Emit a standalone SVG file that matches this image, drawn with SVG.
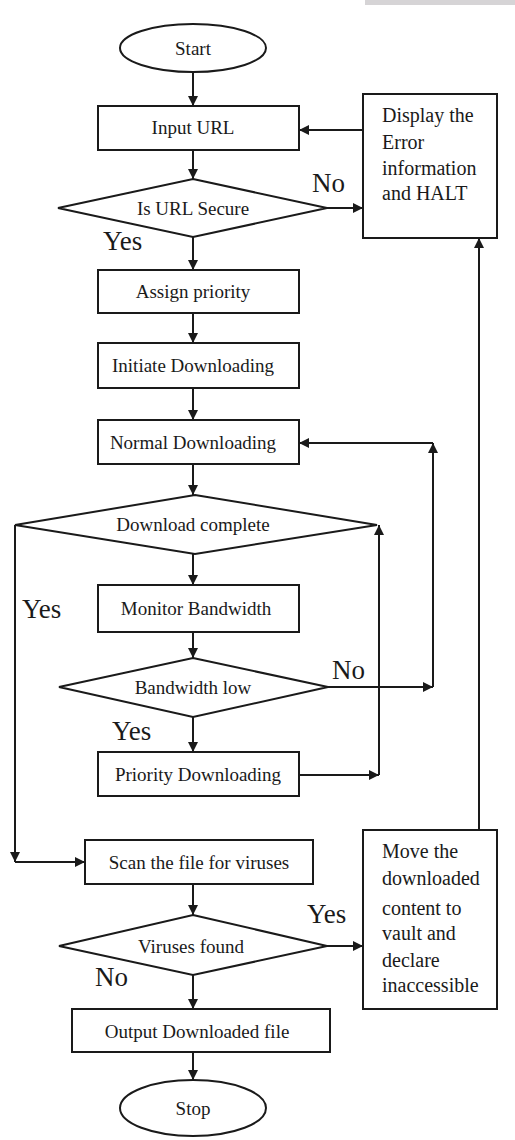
<svg xmlns="http://www.w3.org/2000/svg" width="515" height="1140" viewBox="0 0 515 1140">
<style>
.s{fill:#fff;stroke:#1a1a1a;stroke-width:2}
text{font-family:'Liberation Serif','DejaVu Serif',serif;fill:#1a1a1a}
.t{font-size:19px;text-anchor:middle}
.l{font-size:20px}
.y{font-size:27px}
.c{fill:none;stroke:#1a1a1a;stroke-width:2}
</style>
<defs>
<marker id="a" viewBox="0 0 10 10" refX="10" refY="5" markerWidth="10" markerHeight="10" markerUnits="userSpaceOnUse" orient="auto">
<path d="M0,0 L10,5 L0,10 z" fill="#1a1a1a"/>
</marker>
</defs>
<rect x="365" y="0" width="150" height="5" fill="#d6d4d6"/>
<g id="connectors">
<path class="c" d="M193,72 V106" marker-end="url(#a)"/>
<path class="c" d="M193,150 V179" marker-end="url(#a)"/>
<path class="c" d="M327,208 H363" marker-end="url(#a)"/>
<path class="c" d="M363,130 H299" marker-end="url(#a)"/>
<path class="c" d="M193,237 V270" marker-end="url(#a)"/>
<path class="c" d="M193,313 V343" marker-end="url(#a)"/>
<path class="c" d="M193,388 V420" marker-end="url(#a)"/>
<path class="c" d="M193,464 V495" marker-end="url(#a)"/>
<path class="c" d="M193,554 V585" marker-end="url(#a)"/>
<path class="c" d="M193,632 V658" marker-end="url(#a)"/>
<path class="c" d="M328,687 H433" marker-end="url(#a)"/>
<path class="c" d="M433,687 V443" marker-end="url(#a)"/>
<path class="c" d="M433,443 H299" marker-end="url(#a)"/>
<path class="c" d="M193,717 V752" marker-end="url(#a)"/>
<path class="c" d="M299,775 H379" marker-end="url(#a)"/>
<path class="c" d="M379,775 V525" marker-end="url(#a)"/>
<path class="c" d="M15,525 V862" marker-end="url(#a)"/>
<path class="c" d="M15,862 H85" marker-end="url(#a)"/>
<path class="c" d="M193,884 V915" marker-end="url(#a)"/>
<path class="c" d="M327,946 H363" marker-end="url(#a)"/>
<path class="c" d="M193,975 V1009" marker-end="url(#a)"/>
<path class="c" d="M193,1052 V1080" marker-end="url(#a)"/>
<path class="c" d="M479,830 V238" marker-end="url(#a)"/>
<text class="y" x="312" y="192">No</text>
<text class="y" x="103" y="250">Yes</text>
<text class="y" x="22" y="618">Yes</text>
<text class="y" x="332" y="679">No</text>
<text class="y" x="112" y="740">Yes</text>
<text class="y" x="307" y="923">Yes</text>
<text class="y" x="95" y="986">No</text>
</g>
<g id="start"><ellipse class="s" cx="193" cy="48" rx="73" ry="24"/><text class="t" x="193" y="55">Start</text></g>
<g id="input-url"><rect class="s" x="98" y="106" width="201" height="44"/><text class="t" x="193" y="134">Input URL</text></g>
<g id="is-url-secure"><polygon class="s" points="193,179 327,208 193,237 58,208"/><text class="t" x="193" y="215">Is URL Secure</text></g>
<g id="display-error"><rect class="s" x="363" y="94" width="134" height="144"/>
<text class="l" x="382" y="122">Display the</text><text class="l" x="382" y="149">Error</text><text class="l" x="382" y="175">information</text><text class="l" x="382" y="200">and HALT</text></g>
<g id="assign-priority"><rect class="s" x="98" y="270" width="201" height="43"/><text class="t" x="193" y="298">Assign priority</text></g>
<g id="initiate-downloading"><rect class="s" x="98" y="343" width="201" height="45"/><text class="t" x="193" y="372">Initiate Downloading</text></g>
<g id="normal-downloading"><rect class="s" x="98" y="420" width="201" height="44"/><text class="t" x="193" y="449">Normal Downloading</text></g>
<g id="download-complete"><polygon class="s" points="195,495 377,525 195,554 15,525"/><text class="t" x="193" y="531">Download complete</text></g>
<g id="monitor-bandwidth"><rect class="s" x="98" y="585" width="201" height="47"/><text class="t" x="196" y="615">Monitor Bandwidth</text></g>
<g id="bandwidth-low"><polygon class="s" points="193,658 328,687 193,717 59,687"/><text class="t" x="193" y="694">Bandwidth low</text></g>
<g id="priority-downloading"><rect class="s" x="98" y="752" width="201" height="44"/><text class="t" x="198" y="781">Priority Downloading</text></g>
<g id="scan"><rect class="s" x="85" y="840" width="228" height="44"/><text class="t" x="199" y="869">Scan the file for viruses</text></g>
<g id="viruses-found"><polygon class="s" points="193,915 327,946 193,975 59,946"/><text class="t" x="191" y="953">Viruses found</text></g>
<g id="move-vault"><rect class="s" x="363" y="830" width="134" height="179"/>
<text class="l" x="382" y="858">Move the</text><text class="l" x="382" y="885">downloaded</text><text class="l" x="382" y="915">content to</text><text class="l" x="382" y="940">vault and</text><text class="l" x="382" y="967">declare</text><text class="l" x="382" y="992">inaccessible</text></g>
<g id="output"><rect class="s" x="72" y="1009" width="258" height="43"/><text class="t" x="197" y="1038">Output Downloaded file</text></g>
<g id="stop"><ellipse class="s" cx="193" cy="1108" rx="73" ry="28"/><text class="t" x="193" y="1115">Stop</text></g>
</svg>
